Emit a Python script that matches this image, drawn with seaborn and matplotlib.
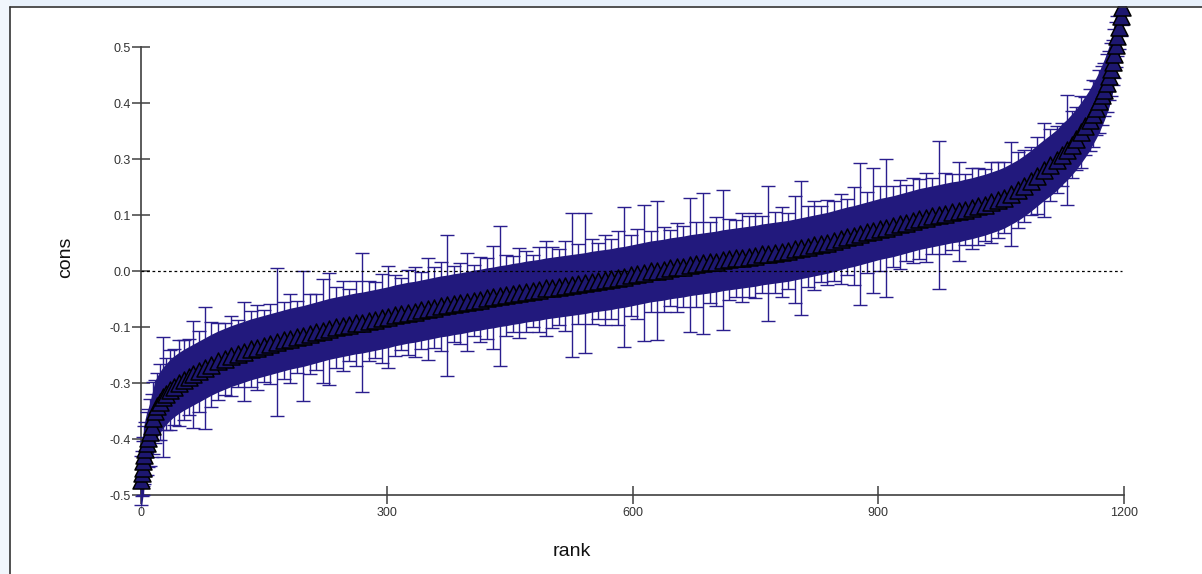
import matplotlib
matplotlib.use("Agg")
import matplotlib.pyplot as plt
import seaborn as sns
import numpy as np
from matplotlib.patches import Rectangle
from matplotlib.lines import Line2D

# ---------------- data ----------------
rank = [
    0, 1, 2, 3, 4, 5, 7, 9, 11, 13,
    15, 17, 20, 23, 27, 31, 35, 40, 46, 52,
    58, 64, 71, 78, 86, 94,
    102, 110, 118, 126, 134, 142, 150, 158, 166, 174,
    182, 190, 198, 206, 214, 222, 230, 238, 246, 254,
    262, 270, 278, 286, 294, 302, 310, 318, 326, 334,
    342, 350, 358, 366, 374, 382, 390, 398, 406, 414,
    422, 430, 438, 446, 454, 462, 470, 478, 486, 494,
    502, 510, 518, 526, 534, 542, 550, 558, 566, 574,
    582, 590, 598, 606, 614, 622, 630, 638, 646, 654,
    662, 670, 678, 686, 694, 702, 710, 718, 726, 734,
    742, 750, 758, 766, 774, 782, 790, 798, 806, 814,
    822, 830, 838, 846, 854, 862, 870, 878, 886, 894,
    902, 910, 918, 926, 934, 942, 950, 958, 966, 974,
    982, 990, 998, 1006, 1014, 1022, 1030, 1038, 1046, 1054,
    1062, 1070, 1078, 1086, 1094, 1102, 1110, 1118,
    1124, 1130, 1136, 1142, 1148, 1153, 1158, 1162, 1166, 1170,
    1173, 1176, 1179, 1182, 1184, 1186, 1188, 1190, 1192, 1194,
    1196, 1197,
]

cons = [
    -0.467, -0.452, -0.440, -0.425, -0.410, -0.398, -0.385, -0.372, -0.360, -0.345,
    -0.328, -0.313, -0.302, -0.293, -0.282, -0.274, -0.266, -0.258, -0.250, -0.243,
    -0.237, -0.231, -0.224, -0.217, -0.209, -0.202,
    -0.196, -0.190, -0.185, -0.180, -0.175, -0.171, -0.167, -0.163, -0.159, -0.155,
    -0.151, -0.148, -0.145, -0.141, -0.137, -0.133, -0.129, -0.126, -0.123, -0.120,
    -0.117, -0.115, -0.112, -0.109, -0.106, -0.103, -0.099, -0.096, -0.093, -0.091,
    -0.088, -0.085, -0.082, -0.079, -0.077, -0.074, -0.072, -0.069, -0.066, -0.064,
    -0.061, -0.059, -0.056, -0.054, -0.051, -0.049, -0.046, -0.044, -0.042, -0.039,
    -0.037, -0.035, -0.033, -0.031, -0.029, -0.027, -0.024, -0.022, -0.020, -0.018,
    -0.015, -0.013, -0.010, -0.007, -0.004, -0.001, 0.001, 0.003, 0.006, 0.008,
    0.010, 0.013, 0.015, 0.017, 0.019, 0.021, 0.024, 0.026, 0.028, 0.030,
    0.032, 0.034, 0.037, 0.039, 0.041, 0.043, 0.045, 0.048, 0.051, 0.054,
    0.057, 0.060, 0.063, 0.067, 0.071, 0.075, 0.078, 0.082, 0.086, 0.090,
    0.094, 0.097, 0.100, 0.104, 0.108, 0.112, 0.116, 0.119, 0.122, 0.125,
    0.128, 0.131, 0.133, 0.137, 0.140, 0.144, 0.148, 0.153, 0.158, 0.164,
    0.172, 0.180, 0.190, 0.201, 0.213, 0.225, 0.236, 0.248,
    0.260, 0.270, 0.282, 0.295, 0.310, 0.323, 0.337, 0.351, 0.364, 0.379,
    0.392, 0.405, 0.420, 0.436, 0.450, 0.466, 0.485, 0.505, 0.525, 0.545,
    0.570, 0.590,
]

err = [
    0.055, 0.050, 0.060, 0.055, 0.065, 0.060, 0.070, 0.065, 0.075, 0.070,
    0.080, 0.070, 0.075, 0.085, 0.134, 0.080, 0.090, 0.085, 0.095, 0.090,
    0.085, 0.120, 0.090, 0.136, 0.095, 0.085,
    0.080, 0.090, 0.075, 0.110, 0.085, 0.095, 0.080, 0.090, 0.165, 0.085,
    0.100, 0.080, 0.145, 0.090, 0.085, 0.116, 0.125, 0.090, 0.100, 0.080,
    0.095, 0.156, 0.090, 0.085, 0.100, 0.114, 0.090, 0.080, 0.095, 0.100,
    0.085, 0.114, 0.090, 0.100, 0.158, 0.085, 0.090, 0.110, 0.080, 0.095,
    0.090, 0.115, 0.156, 0.090, 0.085, 0.100, 0.090, 0.080, 0.095, 0.105,
    0.090, 0.085, 0.100, 0.160, 0.090, 0.156, 0.095, 0.085, 0.100, 0.090,
    0.105, 0.156, 0.090, 0.100, 0.152, 0.090, 0.156, 0.095, 0.085, 0.100,
    0.090, 0.150, 0.095, 0.158, 0.090, 0.100, 0.156, 0.090, 0.085, 0.100,
    0.090, 0.095, 0.085, 0.150, 0.090, 0.100, 0.085, 0.120, 0.150, 0.090,
    0.100, 0.085, 0.095, 0.090, 0.100, 0.085, 0.110, 0.158, 0.090, 0.140,
    0.095, 0.154, 0.090, 0.100, 0.085, 0.095, 0.090, 0.100, 0.085, 0.165,
    0.090, 0.085, 0.110, 0.080, 0.090, 0.085, 0.080, 0.090, 0.085, 0.080,
    0.116, 0.085, 0.080, 0.075, 0.085, 0.105, 0.080, 0.075,
    0.070, 0.123, 0.075, 0.070, 0.080, 0.065, 0.070, 0.075, 0.060, 0.070,
    0.065, 0.060, 0.065, 0.055, 0.060, 0.050, 0.055, 0.050, 0.045, 0.050,
    0.045, 0.040,
]

band_half = 0.068         # half-height of the solid core of overlapping bars
y_ticks = [-0.5, -0.375, -0.25, -0.125, 0.0, 0.125, 0.25, 0.375, 0.5]
y_ticklabels = ["-0.5", "-0.4", "-0.3", "-0.1", "0.0", "0.1", "0.3", "0.4", "0.5"]
x_ticks = [0, 300, 600, 900, 1200]
x_ticklabels = ["0", "300", "600", "900", "1200"]

# ---------------- style ----------------
sns.set_theme(style="ticks")
plt.rcParams["font.family"] = ["Liberation Sans", "DejaVu Sans"]

bar_color = "#2a1e8e"
band_color = "#22197d"
marker_color = "#1d1770"
axis_color = "#404040"

W, H = 1202, 574
fig = plt.figure(figsize=(W / 100, H / 100), dpi=100)
fig.patch.set_facecolor("white")
ax = fig.add_axes([141 / W, (H - 495) / H, 983 / W, 448 / H])
ax.set_facecolor("white")

r = np.array(rank, dtype=float)
v = np.array(cons)
e = np.array(err)

# individual error bars
eb = ax.errorbar(r, v, yerr=e, fmt="none", ecolor=bar_color, elinewidth=1.0,
                 capsize=4.8, capthick=1.0, zorder=2)
for child in eb.get_children():
    child.set_clip_on(False)

# dense core of overlapping error bars
ax.fill_between(r, v - band_half, v + band_half, color=band_color,
                linewidth=0, zorder=2.5, clip_on=False)

# zero reference line
ax.hlines(0, 0, 1198, colors="black", linestyles=(0, (2.2, 2.2)),
          linewidth=0.9, zorder=3)

# triangle markers
sns.scatterplot(x=r, y=v, marker="^", s=150, color=marker_color,
                edgecolor="black", linewidth=1.1, ax=ax, zorder=4,
                clip_on=False, legend=False)

ax.set_xlim(0, 1200)
ax.set_ylim(-0.5, 0.5)
ax.set_xticks(x_ticks)
ax.set_xticklabels(x_ticklabels)
ax.set_yticks(y_ticks)
ax.set_yticklabels(y_ticklabels)

for s in ["top", "right"]:
    ax.spines[s].set_visible(False)
for s in ["left", "bottom"]:
    ax.spines[s].set_color(axis_color)
    ax.spines[s].set_linewidth(1.2)
    ax.spines[s].set_zorder(1)

ax.tick_params(axis="both", direction="inout", length=13.5, width=1.1,
               color=axis_color, labelcolor="#333333", labelsize=9)
ax.tick_params(axis="y", pad=0.8)
ax.tick_params(axis="x", pad=2.2)

ax.set_xlabel("rank", fontsize=14, color="#111111")
ax.xaxis.set_label_coords((571.7 - 141) / 983, (495 - 556) / 448)
ax.xaxis.label.set_verticalalignment("baseline")
ax.set_ylabel("cons", fontsize=14, color="#111111")
ax.yaxis.set_label_coords((70 - 141) / 983, (495 - 257) / 448)
ax.yaxis.label.set_verticalalignment("baseline")

# window frame of the screenshot
fig.add_artist(Rectangle((0, 1 - 6 / H), 1, 6 / H, transform=fig.transFigure,
                         facecolor="#e8f1fb", edgecolor="none", zorder=10))
fig.add_artist(Rectangle((0, 0), 10 / W, 1, transform=fig.transFigure,
                         facecolor="#f1f6fc", edgecolor="none", zorder=10))
fig.add_artist(Line2D([10.5 / W, 1], [1 - 6.5 / H, 1 - 6.5 / H],
                      transform=fig.transFigure, color="#333333",
                      linewidth=1.2, zorder=11))
fig.add_artist(Line2D([10.5 / W, 10.5 / W], [0, 1 - 6.5 / H],
                      transform=fig.transFigure, color="#333333",
                      linewidth=1.2, zorder=11))

fig.savefig("out.png", dpi=100)
